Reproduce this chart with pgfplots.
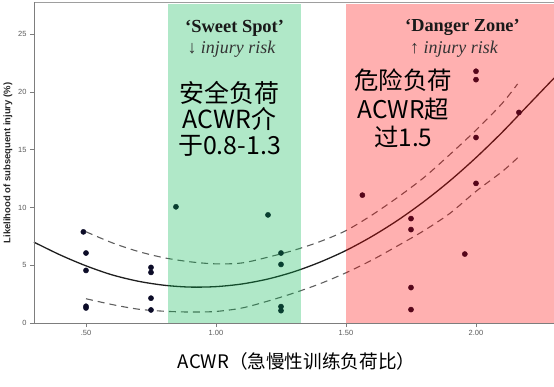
\documentclass[border=0pt]{standalone}
\usepackage{pgfplots}
\pgfplotsset{compat=1.18}
\usepackage{fontspec}
\setmainfont{Liberation Serif}
\newfontfamily\cjk{Noto Sans CJK SC}
\newfontfamily\arial{Liberation Sans}
\definecolor{ovgreen}{RGB}{0,180,77}
\definecolor{ovred}{RGB}{255,0,0}
\definecolor{dotc}{RGB}{12,12,40}
\definecolor{dotg}{RGB}{8,62,48}
\definecolor{dotr}{RGB}{86,6,26}
\definecolor{axisgray}{RGB}{125,125,125}
\definecolor{dashc}{RGB}{95,95,95}
\begin{document}
\begin{tikzpicture}
\path[use as bounding box] (-34bp,-64bp) rectangle (520bp,323bp);
\begin{axis}[
  at={(0,0)}, anchor=south west,
  scale only axis, width=520bp, height=320.5bp,
  xmin=0.3, xmax=2.3, ymin=0, ymax=27.75,
  axis x line*=bottom, axis y line*=left,
  axis line style={axisgray, line width=0.8bp, -},
  xtick={0.5,1,1.5,2}, xticklabels={.50,1.00,1.50,2.00},
  ytick={0,5,10,15,20,25},
  tick align=outside, major tick length=4bp,
  tick style={axisgray, line width=0.6bp},
  ticklabel style={font=\arial\fontsize{7.5}{8}\selectfont, text=black!65},
  /pgf/number format/assume math mode=true,
  axis on top=true,
  clip=false,
  clip marker paths=true,
]
% fitted curve
\addplot[black!88, line width=1.3bp, smooth] coordinates {
 (0.3,7.0) (0.4,5.9) (0.5,4.95) (0.6,4.17) (0.7,3.62) (0.8,3.27) (0.9,3.11)
 (1.0,3.15) (1.1,3.38) (1.2,3.81) (1.3,4.44) (1.4,5.27) (1.5,6.28) (1.6,7.50)
 (1.7,8.91) (1.8,10.52) (1.9,12.32) (2.0,14.32) (2.1,16.5) (2.2,18.85) (2.3,21.2)};
% upper confidence band
\addplot[dashc, line width=1.1bp, smooth, dash pattern=on 7bp off 5bp] coordinates {
 (0.5,7.9) (0.6,6.95) (0.7,6.2) (0.8,5.65) (0.9,5.3) (1.0,5.12) (1.1,5.2)
 (1.2,5.7) (1.3,6.3) (1.4,7.05) (1.5,8.0) (1.6,9.35) (1.7,10.9) (1.8,12.6)
 (1.9,14.6) (2.0,16.7) (2.1,19.0) (2.16,20.7)};
% lower confidence band
\addplot[dashc, line width=1.1bp, smooth, dash pattern=on 7bp off 5bp] coordinates {
 (0.5,2.1) (0.6,1.6) (0.7,1.2) (0.8,1.02) (0.9,0.95) (1.0,1.0) (1.1,1.3)
 (1.2,1.9) (1.3,2.6) (1.4,3.4) (1.5,4.35) (1.6,5.45) (1.7,6.7) (1.8,8.0)
 (1.9,9.5) (2.0,11.4) (2.1,13.1) (2.16,14.3)};
% zones
\addplot[draw=none, fill=ovgreen, fill opacity=0.31] coordinates {(0.815,27.6) (1.325,27.6)} \closedcycle;
\addplot[draw=none, fill=ovred, fill opacity=0.31] coordinates {(1.5,27.6) (2.3,27.6)} \closedcycle;
% observations (colour as seen through each zone)
\addplot[only marks, mark=*, mark size=2.6bp, dotc] coordinates {
 (0.49,7.89) (0.5,6.06) (0.5,4.55) (0.5,1.45) (0.5,1.3)
 (0.75,4.81) (0.75,4.38) (0.75,2.15) (0.75,1.13)};
\addplot[only marks, mark=*, mark size=2.6bp, dotg] coordinates {
 (0.846,10.06) (1.2,9.36) (1.25,6.06) (1.25,5.07) (1.25,1.42) (1.25,1.07)};
\addplot[only marks, mark=*, mark size=2.6bp, dotr] coordinates {
 (1.563,11.07) (1.75,9.04) (1.75,8.09) (1.75,3.07) (1.75,1.16)
 (1.957,5.97) (2.0,21.8) (2.0,21.07) (2.0,16.06) (2.0,12.09) (2.165,18.23)};
\draw[axisgray!75, line width=0.8bp] (rel axis cs:0,1) -- (rel axis cs:1,1);
% zone texts
\node[anchor=base west, font=\bfseries\fontsize{18.5}{22}\selectfont, text=black!90] at (axis cs:0.868,25.15) {‘Sweet Spot’};
\node[anchor=base west, font=\fontsize{18}{22}\selectfont, text=black!80] at (axis cs:0.877,23.35) {↓ \textit{injury risk}};
\node[anchor=base west, font=\bfseries\fontsize{18.4}{22}\selectfont, text=black!90] at (axis cs:1.714,25.2) {‘Danger Zone’};
\node[anchor=base west, font=\fontsize{18}{22}\selectfont, text=black!80] at (axis cs:1.733,23.35) {↑ \textit{injury risk}};
\node[anchor=base, font=\cjk\fontsize{25}{28}\selectfont] at (axis cs:1.052,19.1) {安全负荷};
\node[anchor=base, font=\cjk\fontsize{25}{28}\selectfont] at (axis cs:1.052,16.86) {ACWR介};
\node[anchor=base, font=\cjk\fontsize{25}{28}\selectfont] at (axis cs:1.052,14.55) {于0.8-1.3};
\node[anchor=base, font=\cjk\fontsize{24.5}{28}\selectfont] at (axis cs:1.72,20.26) {危险负荷};
\node[anchor=base, font=\cjk\fontsize{24.5}{28}\selectfont] at (axis cs:1.72,17.72) {ACWR超};
\node[anchor=base, font=\cjk\fontsize{24.5}{28}\selectfont] at (axis cs:1.72,15.26) {过1.5};
% axis titles
\node[anchor=base, font=\cjk\fontsize{18.7}{22}\selectfont] at (axis cs:1.31,-3.9) {ACWR（急慢性训练负荷比）};
\node[rotate=90, anchor=center, font=\arial\bfseries\fontsize{9.5}{11}\selectfont, text=black!85] at (axis cs:0.2,13.85) {Likelihood of subsequent injury (\%)};
\end{axis}
\end{tikzpicture}
\end{document}
